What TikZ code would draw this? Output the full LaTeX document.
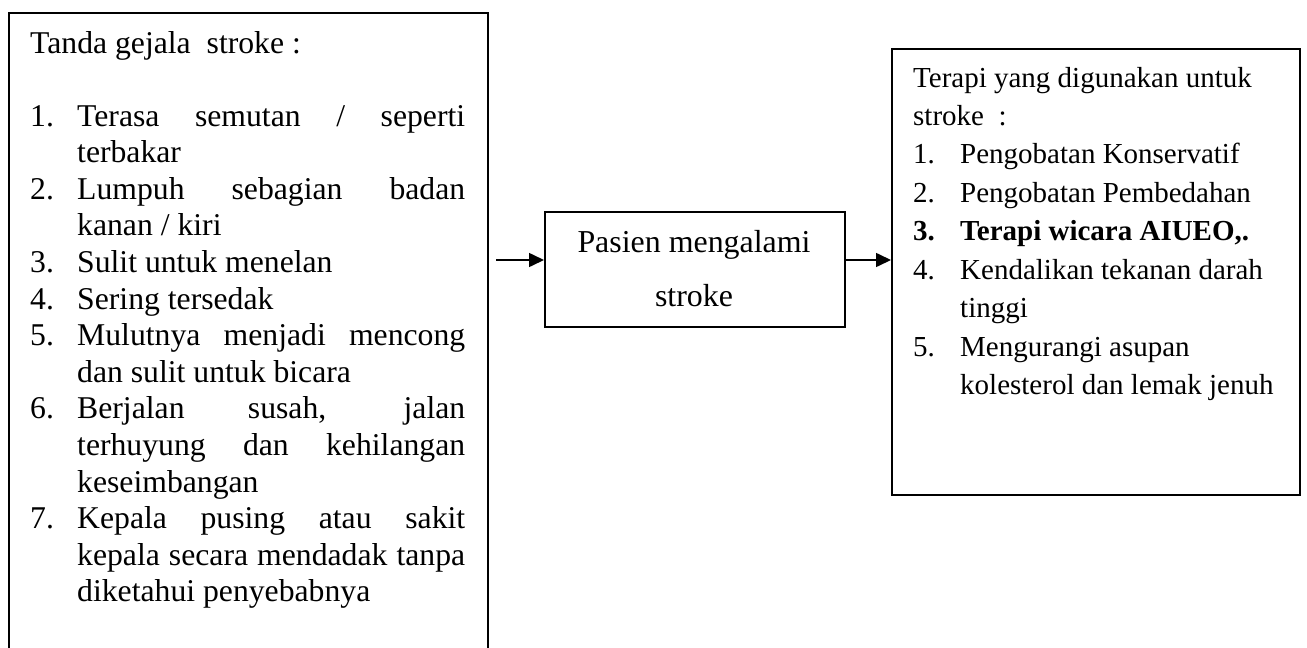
\documentclass[tikz,border=0pt]{standalone}
\usepackage{fontspec}
\setmainfont{Liberation Serif}
\usetikzlibrary{arrows.meta}
\tikzset{
  boxst/.style={draw=black,line width=1.6pt,fill=none,inner sep=0pt,anchor=north west},
  ltxt/.style={inner sep=0pt,anchor=base west,font=\fontsize{31.7}{36.6}\selectfont},
  rtxt/.style={inner sep=0pt,anchor=base west,font=\fontsize{29}{34}\selectfont},
  mtxt/.style={inner sep=0pt,anchor=base,font=\fontsize{31.9}{36}\selectfont},
  arr/.style={line width=1.6pt,-{Triangle[length=15pt,width=14pt]}}
}
\newcommand{\jl}[1]{\makebox[388pt][s]{#1}}
\begin{document}
\begin{tikzpicture}[x=1pt,y=-1pt]
\useasboundingbox (0,0) rectangle (1307,648);
\clip (0,0) rectangle (1307,648);
\fill[white] (0,0) rectangle (1307,648);
% boxes
\node[boxst,minimum width=479pt,minimum height=660pt] (lbox) at (8,12) {};
\node[boxst,minimum width=300pt,minimum height=115pt] (mid) at (544,211) {};
\node[boxst,minimum width=408pt,minimum height=446pt] (rbox) at (891,48) {};
% left text
\node[ltxt] (lt) at (30,53) {Tanda gejala\ \ stroke :};
\node[ltxt] (n1) at (30,126) {1.};
\node[ltxt] (t1a) at (77,126) {\jl{Terasa semutan / seperti}};
\node[ltxt] (t1b) at (77,162.6) {terbakar};
\node[ltxt] (n2) at (30,199.2) {2.};
\node[ltxt] (t2a) at (77,199.2) {\jl{Lumpuh sebagian badan}};
\node[ltxt] (t2b) at (77,235.8) {kanan / kiri};
\node[ltxt] (n3) at (30,272.4) {3.};
\node[ltxt] (t3) at (77,272.4) {Sulit untuk menelan};
\node[ltxt] (n4) at (30,309) {4.};
\node[ltxt] (t4) at (77,309) {Sering tersedak};
\node[ltxt] (n5) at (30,345.6) {5.};
\node[ltxt] (t5a) at (77,345.6) {\jl{Mulutnya menjadi mencong}};
\node[ltxt] (t5b) at (77,382.2) {dan sulit untuk bicara};
\node[ltxt] (n6) at (30,418.8) {6.};
\node[ltxt] (t6a) at (77,418.8) {\jl{Berjalan susah, jalan}};
\node[ltxt] (t6b) at (77,455.4) {\jl{terhuyung dan kehilangan}};
\node[ltxt] (t6c) at (77,492) {keseimbangan};
\node[ltxt] (n7) at (30,528.6) {7.};
\node[ltxt] (t7a) at (77,528.6) {\jl{Kepala pusing atau sakit}};
\node[ltxt] (t7b) at (77,565.2) {\jl{kepala secara mendadak tanpa}};
\node[ltxt] (t7c) at (77,601.8) {diketahui penyebabnya};
% middle text
\node[mtxt] (m1) at (694,252) {Pasien mengalami};
\node[mtxt] (m2) at (694,306) {stroke};
% right text
\node[rtxt] (rt1) at (913,87) {Terapi yang digunakan untuk};
\node[rtxt] (rt2) at (913,125) {stroke\ \ :};
\node[rtxt] (rn1) at (913,163.5) {1.};
\node[rtxt] (r1) at (960,163.5) {Pengobatan Konservatif};
\node[rtxt] (rn2) at (913,202) {2.};
\node[rtxt] (r2) at (960,202) {Pengobatan Pembedahan};
\node[rtxt] (rn3) at (913,240.5) {\bfseries 3.};
\node[rtxt] (r3) at (960,240.5) {\bfseries Terapi wicara AIUEO,.};
\node[rtxt] (rn4) at (913,279) {4.};
\node[rtxt] (r4a) at (960,279) {Kendalikan tekanan darah};
\node[rtxt] (r4b) at (960,317.5) {tinggi};
\node[rtxt] (rn5) at (913,356) {5.};
\node[rtxt] (r5a) at (960,356) {Mengurangi asupan};
\node[rtxt] (r5b) at (960,394.5) {kolesterol dan lemak jenuh};
% arrows
\coordinate (a1) at (496,260);
\draw[arr] (a1) -- (a1 -| mid.west);
\draw[arr] (a1 -| mid.east) -- (a1 -| rbox.west);
\end{tikzpicture}
\end{document}
